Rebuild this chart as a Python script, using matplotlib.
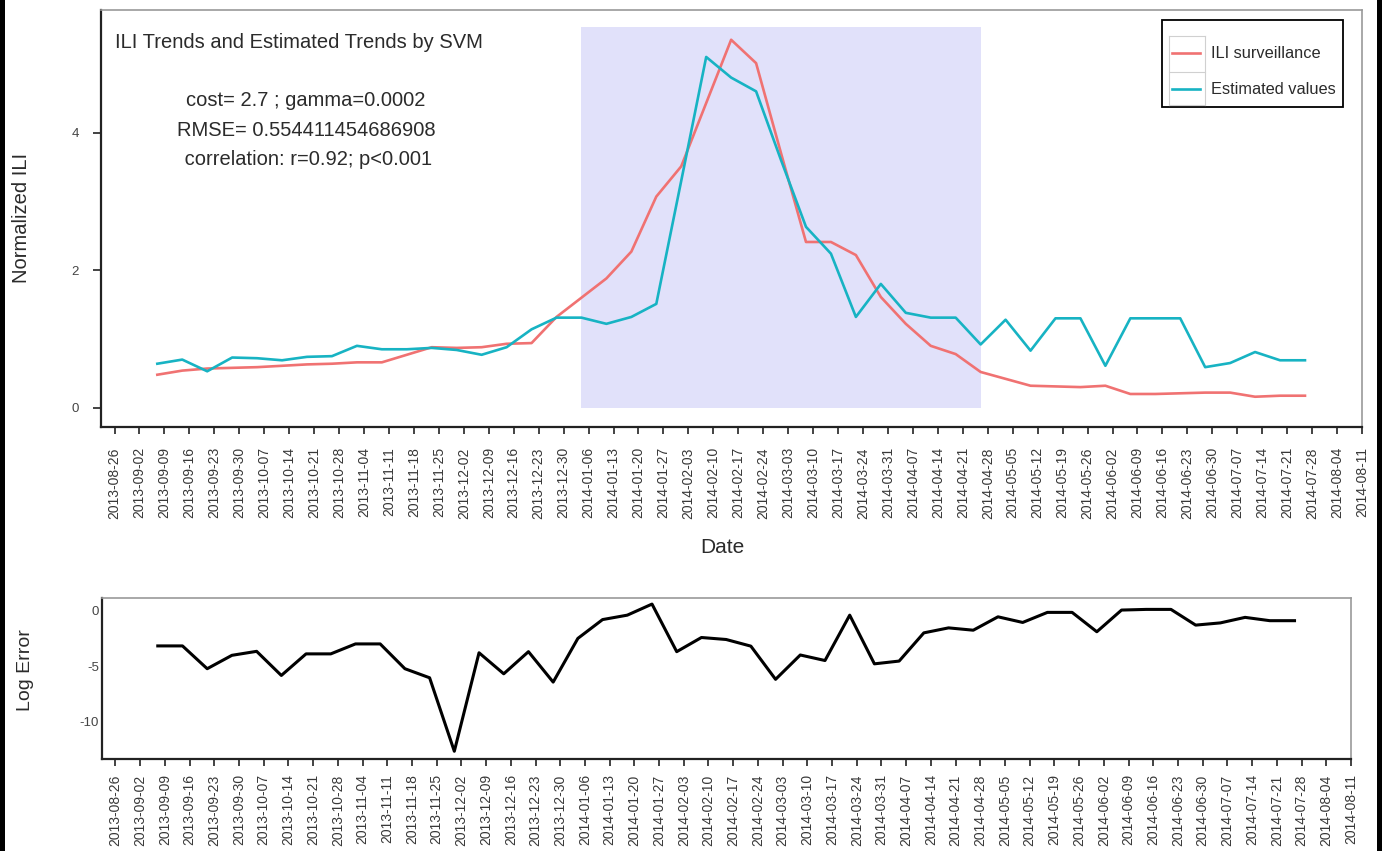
import numpy as np
import pandas as pd
import matplotlib
matplotlib.use('Agg')
import matplotlib.pyplot as plt
import matplotlib.dates as mdates
from matplotlib.lines import Line2D
from matplotlib.patches import Rectangle

plt.rcParams['font.family'] = ['Liberation Sans', 'DejaVu Sans']
plt.rcParams['axes.unicode_minus'] = False

W, H = 1382, 851

# weekly series (weeks ending Saturday)
dates = pd.date_range('2013-09-07', periods=47, freq='7D')
ili = [0.48, 0.54, 0.57, 0.58, 0.59, 0.61, 0.63, 0.64, 0.66, 0.66,
       0.77, 0.88, 0.87, 0.88, 0.93, 0.94, 1.32, 1.60, 1.88, 2.27,
       3.07, 3.51, 4.43, 5.35, 5.01, 3.70, 2.41, 2.41, 2.22, 1.61,
       1.22, 0.90, 0.78, 0.52, 0.42, 0.32, 0.31, 0.30, 0.32, 0.20,
       0.20, 0.21, 0.22, 0.22, 0.16, 0.175, 0.175]
est = [0.64, 0.70, 0.53, 0.73, 0.72, 0.69, 0.74, 0.75, 0.90, 0.85,
       0.85, 0.87, 0.84, 0.77, 0.88, 1.14, 1.31, 1.31, 1.22, 1.32,
       1.51, 3.30, 5.10, 4.80, 4.60, 3.60, 2.63, 2.24, 1.32, 1.80,
       1.38, 1.31, 1.31, 0.92, 1.28, 0.83, 1.30, 1.30, 0.61, 1.30,
       1.30, 1.30, 0.59, 0.65, 0.81, 0.69, 0.69]
log_err = [-3.18, -3.18, -5.24, -4.03, -3.67, -5.85, -3.9, -3.9, -3.0, -3.0,
           -5.24, -6.06, -12.7, -3.8, -5.7, -3.7, -6.45, -2.5, -0.8, -0.4,
           0.6, -3.7, -2.42, -2.6, -3.2, -6.2, -4.0, -4.5, -0.4, -4.8,
           -4.55, -2.0, -1.55, -1.76, -0.55, -1.06, -0.15, -0.15, -1.9, 0.06,
           0.12, 0.12, -1.3, -1.1, -0.6, -0.9, -0.9]

tick_dates = pd.date_range('2013-08-26', '2014-08-11', freq='7D')
tick_labels = [d.strftime('%Y-%m-%d') for d in tick_dates]
peak_start, peak_end = pd.Timestamp('2014-01-04'), pd.Timestamp('2014-04-26')
peak_top = 5.53
series_names = ['ILI surveillance', 'Estimated values']

red = '#F07272'
cyan = '#17B3C3'
shade = '#E1E1FA'
txt = '#2b2b2b'


def fx(x):
  return x / W


def fy(y):
  return 1 - y / H


def style_axes(ax, pad):
  ax.set_xticks(tick_dates)
  ax.set_xticklabels(tick_labels, rotation=90, fontsize=10, color='#383838')
  ax.tick_params(axis='x', length=5, width=1.2, pad=pad, color='#222222')
  ax.tick_params(axis='y', length=6, width=1.2, labelsize=9.5,
                 labelcolor='#444444', color='#222222', pad=10)
  for s in ['left', 'bottom']:
    ax.spines[s].set_color('#222222')
    ax.spines[s].set_linewidth(1.6)
  for s in ['top', 'right']:
    ax.spines[s].set_color('#9a9a9a')
    ax.spines[s].set_linewidth(1.2)
  x0 = mdates.date2num(tick_dates[0])
  ax.set_xlim(x0 - 3.8, mdates.date2num(tick_dates[-1]))


fig = plt.figure(figsize=(W / 100, H / 100), dpi=100)

# upper panel
ax = fig.add_axes([fx(101), fy(427), fx(1362 - 101), (427 - 9.5) / H])
ax.fill_between([peak_start, peak_end], 0, peak_top, color=shade, lw=0, zorder=0)
ax.plot(dates, ili, color=red, lw=1.9, zorder=3)
ax.plot(dates, est, color=cyan, lw=1.9, zorder=4)
ax.set_ylim(-0.28, 5.79)
ax.set_yticks([0, 2, 4])
style_axes(ax, pad=9.5)

# legend drawn as a small table box (R style)
fig.add_artist(Rectangle((fx(1162), fy(107)), fx(1343 - 1162), (107 - 20) / H,
                         facecolor='white', edgecolor='black', lw=1.3, zorder=5))
for (xa, ya, xb, yb) in [(1169, 36, 1205, 36), (1169, 72, 1205, 72),
                         (1169, 105, 1205, 105), (1169, 36, 1169, 105),
                         (1205, 36, 1205, 105)]:
  fig.add_artist(Line2D([fx(xa), fx(xb)], [fy(ya), fy(yb)],
                        color='#d0d0d0', lw=0.8, zorder=6))
for name, col, yy in zip(series_names, [red, cyan], [53, 89]):
  fig.add_artist(Line2D([fx(1172), fx(1200)], [fy(yy), fy(yy)],
                        color=col, lw=1.9, zorder=7))
  fig.text(fx(1211), fy(yy), name, fontsize=11.8, color=txt,
           ha='left', va='center', zorder=7)

fig.text(fx(115), fy(48), 'ILI Trends and Estimated Trends by SVM',
         fontsize=14.5, color=txt, ha='left', va='baseline')
stats = ['cost= 2.7 ; gamma=0.0002', 'RMSE= 0.554411454686908',
         ' correlation: r=0.92; p<0.001']
for i, s in enumerate(stats):
  fig.text(fx(306), fy(106 + 29.5 * i), s, fontsize=14.5, color=txt,
           ha='center', va='baseline')

fig.text(fx(722), fy(553), 'Date', fontsize=15, color=txt,
         ha='center', va='baseline')
fig.text(fx(22), fy(218), 'Normalized ILI', fontsize=14.5, color=txt,
         rotation=90, ha='center', va='center')

# lower panel
ax2 = fig.add_axes([fx(102), fy(759), fx(1351 - 102), (759 - 598) / H])
ax2.plot(dates, log_err, color='black', lw=2.2)
ax2.set_ylim(-13.4, 1.15)
ax2.set_yticks([0, -5, -10])
style_axes(ax2, pad=6)
ax2.tick_params(axis='y', length=0, pad=2)
fig.text(fx(25), fy(670), 'Log Error', fontsize=14, color=txt,
         rotation=90, ha='center', va='center')

# dark page border at the sides
fig.add_artist(Rectangle((0, 0), fx(5), 1, color='black', lw=0))
fig.add_artist(Rectangle((fx(1377), 0), fx(5), 1, color='black', lw=0))

fig.savefig('out.png', dpi=100)
